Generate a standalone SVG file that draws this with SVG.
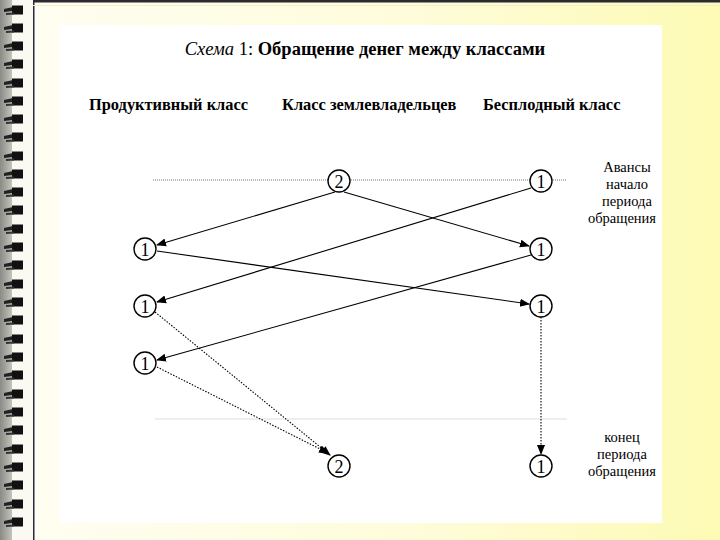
<svg xmlns="http://www.w3.org/2000/svg" width="720" height="540" viewBox="0 0 720 540">
<defs>
<linearGradient id="bg" x1="0" y1="0" x2="1" y2="0">
<stop offset="0" stop-color="#fffef4"/>
<stop offset="0.6" stop-color="#fefcd8"/>
<stop offset="1" stop-color="#fdfbb4"/>
</linearGradient>
<linearGradient id="strip" x1="0" y1="0" x2="1" y2="0">
<stop offset="0" stop-color="#8a8a86"/>
<stop offset="1" stop-color="#c4c4bc"/>
</linearGradient>
<marker id="ah" viewBox="0 0 10 10" refX="9" refY="5" markerWidth="10" markerHeight="10" markerUnits="userSpaceOnUse" orient="auto">
<path d="M0,1 L10,5 L0,9 Z" fill="#000"/>
</marker>
<g id="ring">
<path d="M4,-1 L13,-3 L13,1 L4,2 Z" fill="#222"/>
<rect x="12" y="-4.5" width="11" height="9" fill="#111"/>
<path d="M6,3 L14,2.5 L14,4.5 L6,5 Z" fill="#333"/>
</g>
</defs>
<style>
.t{fill:#000;font-family:"Liberation Serif","Times New Roman",serif}
.h{font-size:16.4px;font-weight:bold}
.lbl{font-size:14.5px;text-anchor:middle}
.num{font-size:18px;text-anchor:middle}
.node circle{fill:#fff;stroke:#000;stroke-width:1.4}
.c{fill:none;stroke:#000;stroke-width:1.1}
.d{fill:none;stroke:#000;stroke-width:1.1;stroke-dasharray:1.5 1.5}
</style>
<rect x="0" y="0" width="720" height="540" fill="url(#bg)"/>
<rect x="0" y="0" width="12" height="540" fill="url(#strip)"/>
<rect x="12" y="0" width="21" height="540" fill="#fbfaf2"/>
<g id="binding">
<use href="#ring" y="10"/><use href="#ring" y="28"/><use href="#ring" y="46"/><use href="#ring" y="64"/>
<use href="#ring" y="83"/><use href="#ring" y="101"/><use href="#ring" y="119"/><use href="#ring" y="137"/>
<use href="#ring" y="156"/><use href="#ring" y="174"/><use href="#ring" y="192"/><use href="#ring" y="210"/>
<use href="#ring" y="229"/><use href="#ring" y="247"/><use href="#ring" y="265"/><use href="#ring" y="284"/>
<use href="#ring" y="302"/><use href="#ring" y="320"/><use href="#ring" y="339"/><use href="#ring" y="357"/>
<use href="#ring" y="375"/><use href="#ring" y="394"/><use href="#ring" y="412"/><use href="#ring" y="430"/>
<use href="#ring" y="449"/><use href="#ring" y="467"/><use href="#ring" y="485"/><use href="#ring" y="504"/>
<use href="#ring" y="522"/>
</g>
<rect x="33" y="0" width="1.5" height="540" fill="#2a2540"/>
<rect x="33" y="0" width="687" height="2.5" fill="#2a2a30"/>
<rect x="33" y="5" width="687" height="1" fill="#f2efcc"/>
<rect x="60" y="25" width="602" height="498" fill="#ffffff"/>
<text class="t" x="365" y="55" text-anchor="middle" font-size="18.5"><tspan font-style="italic">Схема</tspan> 1: <tspan font-weight="bold">Обращение денег между классами</tspan></text>
<text class="t h" x="89" y="110">Продуктивный класс</text>
<text class="t h" x="282" y="110">Класс землевладельцев</text>
<text class="t h" x="483" y="110">Бесплодный класс</text>
<text class="t lbl"><tspan x="627" y="172">Авансы</tspan><tspan x="627" y="189">начало</tspan><tspan x="627" y="206">периода</tspan><tspan x="622" y="223">обращения</tspan></text>
<text class="t lbl"><tspan x="622" y="442">конец</tspan><tspan x="622" y="459">периода</tspan><tspan x="622" y="476">обращения</tspan></text>
<line x1="153" y1="180" x2="567" y2="180" stroke="#777" stroke-width="1" stroke-dasharray="1 1"/>
<line x1="155" y1="419" x2="567" y2="419" stroke="#ddd" stroke-width="1"/>
<g id="connectors">
<line class="c" x1="335" y1="192" x2="157" y2="245" marker-end="url(#ah)"/>
<line class="c" x1="344" y1="192" x2="529" y2="246" marker-end="url(#ah)"/>
<line class="c" x1="531" y1="188" x2="157" y2="302" marker-end="url(#ah)"/>
<line class="c" x1="157" y1="251" x2="529" y2="304" marker-end="url(#ah)"/>
<line class="c" x1="531" y1="255" x2="157" y2="360" marker-end="url(#ah)"/>
<line class="d" x1="155" y1="312" x2="330" y2="455" marker-end="url(#ah)"/>
<line class="d" x1="157" y1="367" x2="328" y2="453" marker-end="url(#ah)"/>
<line class="d" x1="541" y1="317" x2="541" y2="454" marker-end="url(#ah)"/>
</g>
<g id="n_l2" class="node"><circle cx="339" cy="181" r="11"/><text class="t num" x="339" y="187.5">2</text></g>
<g id="n_b1" class="node"><circle cx="541" cy="181" r="11"/><text class="t num" x="541" y="187.5">1</text></g>
<g id="n_p1" class="node"><circle cx="145" cy="249" r="11"/><text class="t num" x="145" y="255.5">1</text></g>
<g id="n_p2" class="node"><circle cx="145" cy="306" r="11"/><text class="t num" x="145" y="312.5">1</text></g>
<g id="n_p3" class="node"><circle cx="145" cy="363" r="11"/><text class="t num" x="145" y="369.5">1</text></g>
<g id="n_b2" class="node"><circle cx="541" cy="249" r="11"/><text class="t num" x="541" y="255.5">1</text></g>
<g id="n_b3" class="node"><circle cx="541" cy="306" r="11"/><text class="t num" x="541" y="312.5">1</text></g>
<g id="n_l3" class="node"><circle cx="339" cy="466" r="11"/><text class="t num" x="339" y="472.5">2</text></g>
<g id="n_b4" class="node"><circle cx="541" cy="466" r="11"/><text class="t num" x="541" y="472.5">1</text></g>
</svg>
